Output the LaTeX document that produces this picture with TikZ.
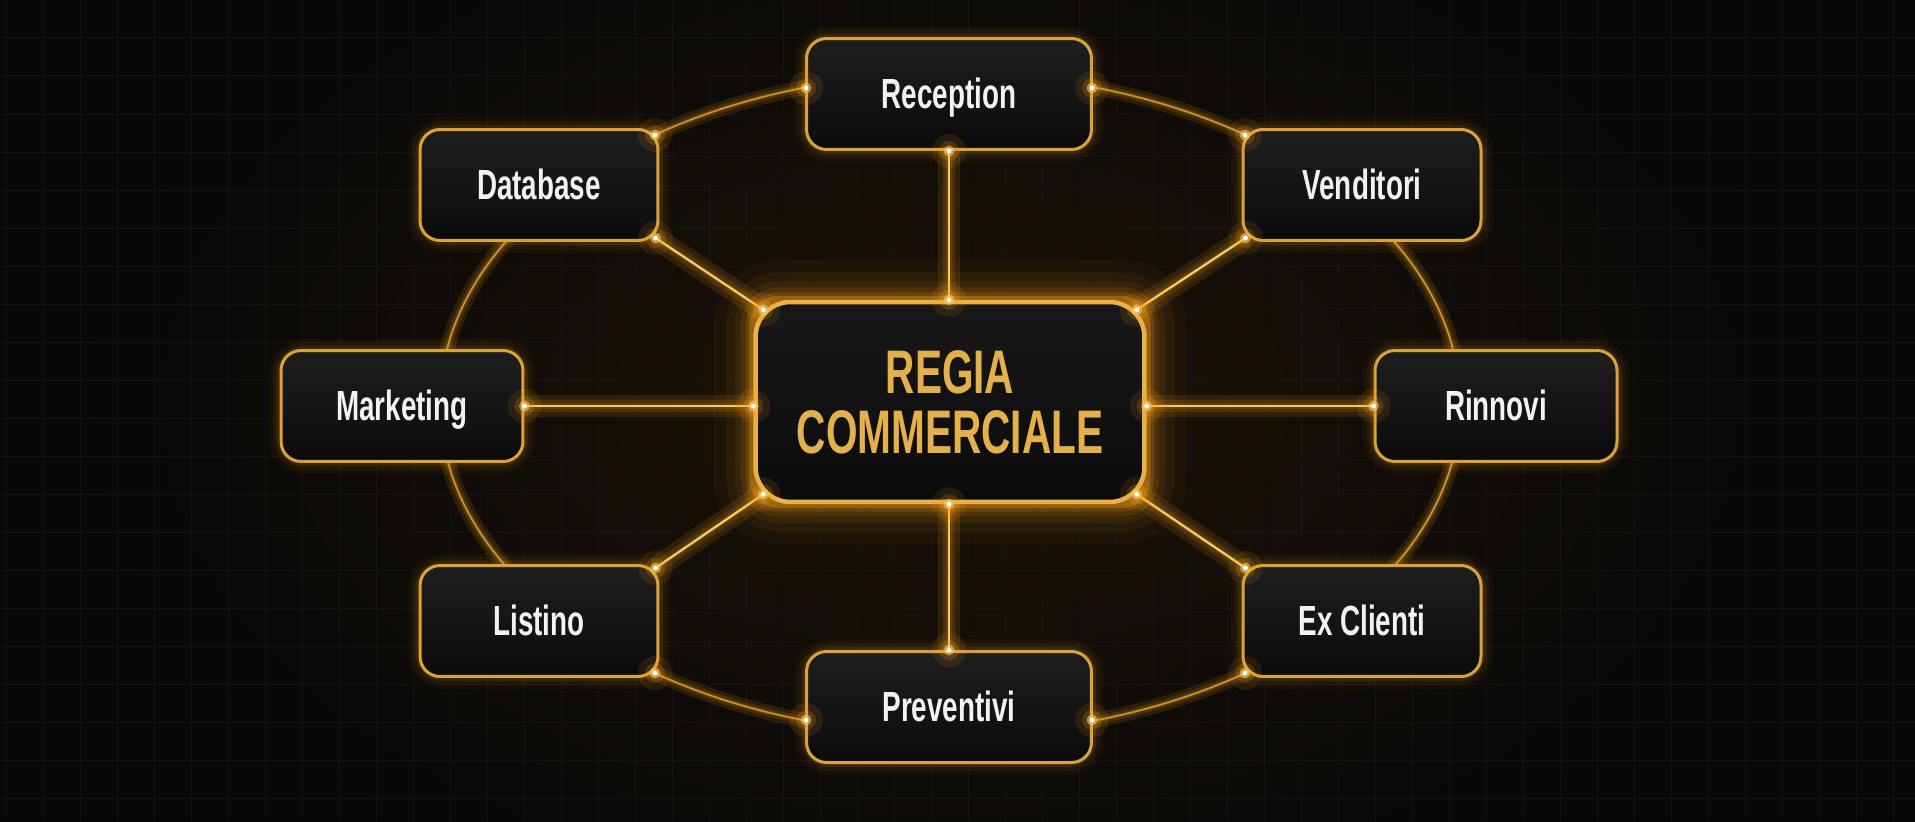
\documentclass[tikz,border=0pt]{standalone}
\usepackage{fontspec}
\newfontfamily\lblfont[FakeStretch=0.66]{Liberation Sans}
\usetikzlibrary{calc}
\definecolor{bgc}{HTML}{070707}
\definecolor{gridc}{HTML}{131313}
\definecolor{gold}{HTML}{DBA238}
\definecolor{cgold}{HTML}{E8B24A}
\definecolor{goldline}{HTML}{F7CC66}
\definecolor{ringc}{HTML}{C8922E}
\definecolor{glowc}{HTML}{FFA41C}
\definecolor{txtgold}{HTML}{E4B04A}
\definecolor{boxtop}{HTML}{1E1E1E}
\definecolor{boxbot}{HTML}{0B0B0B}
\definecolor{warm}{HTML}{1C1307}
\pgfdeclarelayer{bg}
\pgfdeclarelayer{glow}
\pgfdeclarelayer{top}
\pgfsetlayers{bg,glow,main,top}
\tikzset{
  box/.style={rectangle, rounded corners=0.4cm, draw=gold, line width=0.06cm,
    top color=boxtop, bottom color=boxbot, minimum height=2.22cm, inner sep=0pt,
    text=white!95!black, font=\lblfont\bfseries\fontsize{24}{24}\selectfont,
    text height=17pt, text depth=0pt},
  cbox/.style={rectangle, rounded corners=0.7cm, draw=cgold, line width=0.09cm,
    top color=boxtop!80!black, bottom color=boxbot, minimum width=7.78cm, minimum height=4.0cm,
    inner sep=0pt, align=center, text=txtgold,
    font=\lblfont\bfseries\fontsize{35}{35}\selectfont},
  spoke/.style={goldline, line width=0.045cm},
  spokeglow/.style={glowc, line width=#1, opacity=0.12},
  ring/.style={ringc, line width=0.035cm},
}
\newcommand\glowbox[2]{%
  \begin{pgfonlayer}{glow}
    \foreach \w/\o in {#2}{%
      \draw[glowc, line width=\w cm, opacity=\o, rounded corners=0.5cm]
        (#1.north west) rectangle (#1.south east);}
  \end{pgfonlayer}}
\newcommand\gdot[1]{%
  \begin{pgfonlayer}{top}
    \fill[glowc, opacity=0.10] (#1) circle (0.34cm);
    \fill[glowc, opacity=0.18] (#1) circle (0.20cm);
    \fill[goldline, opacity=0.6] (#1) circle (0.11cm);
    \fill[white] (#1) circle (0.05cm);
  \end{pgfonlayer}}
\begin{document}
\begin{tikzpicture}[x=0.02cm, y=-0.02cm]
\useasboundingbox (0,0) rectangle (1915,821);
\begin{pgfonlayer}{bg}
  \fill[bgc] (-30,-30) rectangle (1945,851);
  \shade[inner color=warm, outer color=bgc] (950,402) ellipse (900 and 560);
  \foreach \gx in {6,43,...,1915} \draw[gridc, line width=0.02cm] (\gx,0) -- (\gx,821);
  \foreach \gy in {0,38,...,821} \draw[gridc, line width=0.02cm] (0,\gy) -- (1915,\gy);
\end{pgfonlayer}

% nodes
\node[cbox] (c) at (950,402) {REGIA\\[-1pt]COMMERCIALE};
\node[box, minimum width=5.7cm] (rc) at (949,94) {Reception};
\node[box, minimum width=4.76cm] (db) at (539,185) {Database};
\node[box, minimum width=4.76cm] (ve) at (1362,185) {Venditori};
\node[box, minimum width=4.84cm] (mk) at (402,406) {Marketing};
\node[box, minimum width=4.84cm] (rn) at (1496,406) {Rinnovi};
\node[box, minimum width=4.76cm] (li) at (539,621) {Listino};
\node[box, minimum width=4.76cm] (ex) at (1362,621) {Ex Clienti};
\node[box, minimum width=5.7cm] (pv) at (949,707) {Preventivi};

% glows
\glowbox{c}{1.6/0.035,1.1/0.05,0.75/0.07,0.5/0.1,0.3/0.16,0.16/0.3}
\foreach \n in {rc,db,ve,mk,rn,li,ex,pv}{\glowbox{\n}{0.45/0.035,0.28/0.05,0.14/0.1}}

% spoke end coordinates
\coordinate (dbE) at ($(db.south east)+(-4,-4)$);
\coordinate (veE) at ($(ve.south west)+(4,-4)$);
\coordinate (liE) at ($(li.north east)+(-4,4)$);
\coordinate (exE) at ($(ex.north west)+(4,4)$);
\coordinate (cNW) at ($(c.north west)+(10,10)$);
\coordinate (cNE) at ($(c.north east)+(-10,10)$);
\coordinate (cSW) at ($(c.south west)+(10,-10)$);
\coordinate (cSE) at ($(c.south east)+(-10,-10)$);
\coordinate (cN) at (c.north -| rc.south);
\coordinate (cS) at (c.south -| pv.north);
\coordinate (cW) at (c.west |- mk.east);
\coordinate (cE) at (c.east |- rn.west);

% ring junctions
\coordinate (j1) at (806,88);
\coordinate (j2) at (1092,88);
\coordinate (j3) at (655,135);
\coordinate (j4) at (1245,135);
\coordinate (j5) at (655,673);
\coordinate (j6) at (1245,673);
\coordinate (j7) at (806,720);
\coordinate (j8) at (1092,720);

\begin{pgfonlayer}{bg}
  \foreach \w in {0.3,0.16,0.08}{\draw[spokeglow=\w cm] (950,404) ellipse (510 and 330);}
  \draw[ring] (950,404) ellipse (510 and 330);
  \foreach \a/\b in {rc.south/cN, pv.north/cS, mk.east/cW, rn.west/cE, dbE/cNW, veE/cNE, liE/cSW, exE/cSE}{
    \foreach \w in {0.45,0.25,0.12}{\draw[spokeglow=\w cm] (\a) -- (\b);}
    \draw[spoke] (\a) -- (\b);
  }
\end{pgfonlayer}

% glowing dots
\foreach \p in {rc.south, cN, pv.north, cS, mk.east, cW, rn.west, cE, dbE, cNW, veE, cNE, liE, cSW, exE, cSE, j1, j2, j3, j4, j5, j6, j7, j8}{\gdot{\p}}
\end{tikzpicture}
\end{document}
